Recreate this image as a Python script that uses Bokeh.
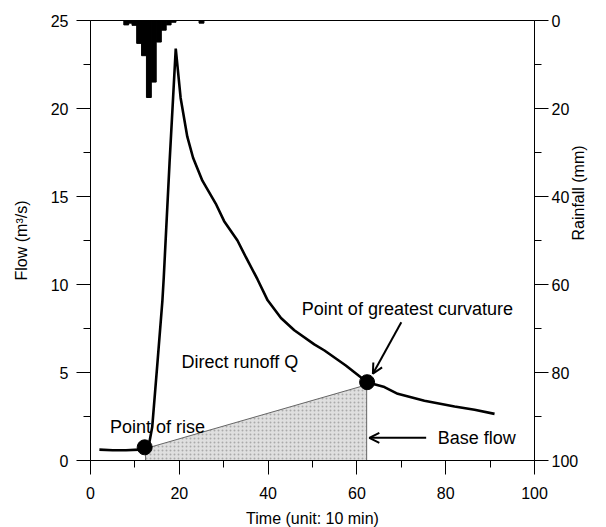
from bokeh.plotting import figure
from bokeh.models import Range1d, LinearAxis, Arrow, OpenHead, FixedTicker
from bokeh.core.properties import value
from bokeh.embed import file_html
from bokeh.resources import INLINE
import math

# ---- data ----
time = [2, 5, 8, 11, 12.2, 13.2, 13.9, 15.0, 16.2, 16.5, 17.8, 18.6, 19.2, 20.3, 21.8,
        23.1, 25.2, 28.2, 30.1, 33.1, 35.0, 37.6, 39.9, 42.9, 45.9, 50.4, 52.7, 57.5,
        62.3, 66.2, 69.2, 75.2, 82, 86.5, 91]
flow = [0.62, 0.58, 0.58, 0.62, 0.75, 0.95, 1.9, 5.3, 9.1, 10.4, 16.9, 20.6, 23.4, 20.6, 18.4,
        17.2, 15.9, 14.6, 13.6, 12.5, 11.55, 10.3, 9.1, 8.1, 7.4, 6.6, 6.25, 5.4,
        4.45, 4.17, 3.79, 3.4, 3.07, 2.88, 2.65]

rain_time = [8.05, 9.0, 9.9, 10.95, 12.05, 13.15, 14.25, 15.4, 16.5, 17.6, 18.7, 25.0]
rain_mm = [1.0, 0.6, 1.1, 5.2, 8.0, 17.5, 14.0, 4.9, 2.2, 1.0, 0.4, 0.6]

key_time = [12.2, 62.3]          # point of rise, point of greatest curvature
key_flow = [0.75, 4.45]
base_time = [12.4, 12.4, 62.2, 62.2]
base_flow = [0.0, 0.68, 4.3, 0.0]

x_ticks = [0, 20, 40, 60, 80, 100]
y_ticks = [0, 5, 10, 15, 20, 25]
r_ticks = [0, 20, 40, 60, 80, 100]

FONT = "Liberation Sans"

p = figure(frame_width=444, frame_height=440, output_backend="svg", toolbar_location=None,
           x_range=Range1d(0, 100), y_range=Range1d(0, 25),
           min_border_left=90, min_border_right=56, min_border_top=20, min_border_bottom=50)
p.xgrid.visible = False
p.ygrid.visible = False
p.outline_line_color = "black"
p.outline_line_width = 1
p.background_fill_color = "white"
p.border_fill_color = "white"

p.extra_y_ranges = {"rain": Range1d(start=100, end=0)}

# base flow area
p.patch(base_time, base_flow, fill_color="#dcdcdc", fill_alpha=0.9,
        hatch_pattern="dot", hatch_color="#aaaaaa", hatch_scale=4,
        line_color="#666666", line_width=1)

# rainfall bars
p.vbar(x=rain_time, width=1.1, top=0, bottom=rain_mm, y_range_name="rain",
       fill_color="black", line_color="black")

# hydrograph
p.line(time, flow, line_color="black", line_width=2.6)
p.scatter(key_time, key_flow, size=15, fill_color="black", line_color="black")

# arrows
p.add_layout(Arrow(end=OpenHead(size=10, line_width=2), x_start=70, y_start=7.86,
                   x_end=63.6, y_end=4.93, line_width=2))
p.add_layout(Arrow(end=OpenHead(size=10, line_width=2), x_start=75.6, y_start=1.29,
                   x_end=62.8, y_end=1.29, line_width=2))

ann_x = [47.6, 20.5, 4.4, 78.2]
ann_y = [8.6, 5.58, 1.9, 1.3]
ann_t = ["Point of greatest curvature", "Direct runoff Q", "Point of rise", "Base flow"]
p.text(ann_x, ann_y, text=ann_t, text_font=value(FONT), text_font_size="18px",
       text_baseline="middle", text_align="left", text_color="black")

def style(ax, label):
    ax.axis_label = label
    ax.axis_label_text_font = FONT
    ax.axis_label_text_font_size = "16px"
    ax.axis_label_text_font_style = "normal"
    ax.axis_label_text_color = "black"
    ax.major_label_text_font = FONT
    ax.major_label_text_font_size = "16px"
    ax.major_label_text_color = "black"
    ax.axis_line_color = "black"
    ax.major_tick_line_color = "black"
    ax.minor_tick_line_color = "black"
    ax.major_tick_out = 14
    ax.major_tick_in = 0
    ax.minor_tick_out = 7
    ax.minor_tick_in = 0

xa = p.xaxis[0]
xa.ticker = FixedTicker(ticks=x_ticks, minor_ticks=[10, 30, 50, 70, 90])
style(xa, "Time (unit: 10 min)")
xa.major_label_standoff = 12
xa.axis_label_standoff = 8

ya = p.yaxis[0]
ya.ticker = FixedTicker(ticks=y_ticks, minor_ticks=[2.5, 7.5, 12.5, 17.5, 22.5])
style(ya, "Flow (m³/s)")
ya.major_label_standoff = 8
ya.axis_label_standoff = 18

ra = LinearAxis(y_range_name="rain", ticker=FixedTicker(ticks=r_ticks, minor_ticks=[10, 30, 50, 70, 90]))
style(ra, "Rainfall (mm)")
ra.major_label_standoff = 3
ra.axis_label_standoff = -3
try:
    ra.axis_label_orientation = math.pi / 2
except Exception:
    pass
p.add_layout(ra, "right")

open("out.html", "w").write(file_html(p, INLINE))
